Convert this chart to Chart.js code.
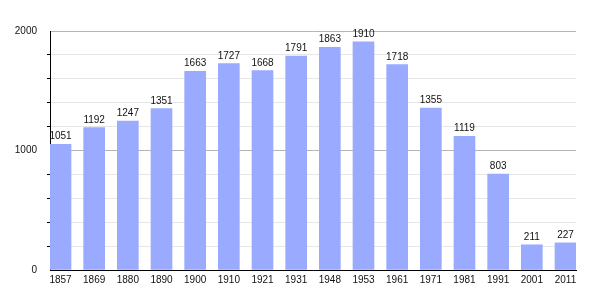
<!DOCTYPE html>
<html>
<head>
<meta charset="utf-8">
<script src="https://cdn.jsdelivr.net/npm/chart.js@4"></script>
<style>
  html, body { margin: 0; padding: 0; background: #fff; }
  #wrap { width: 605px; height: 300px; }
</style>
</head>
<body>
<div id="wrap"><canvas id="popChart"></canvas></div>
<script>
const years = ['1857', '1869', '1880', '1890', '1900', '1910', '1921', '1931',
               '1948', '1953', '1961', '1971', '1981', '1991', '2001', '2011'];
const population = [1051, 1192, 1247, 1351, 1663, 1727, 1668, 1791,
                    1863, 1910, 1718, 1355, 1119, 803, 211, 227];
const yMax = 2000;
const yStep = 200;
const yLabelStep = 1000;

const FONT = '"Liberation Sans", Arial, sans-serif';

// Draws the value above each bar.
const valueLabels = {
    id: 'valueLabels',
    afterDatasetsDraw(chart) {
        const ctx = chart.ctx;
        const meta = chart.getDatasetMeta(0);
        ctx.save();
        ctx.font = '10px ' + FONT;
        ctx.fillStyle = '#111';
        ctx.textAlign = 'center';
        ctx.textBaseline = 'alphabetic';
        meta.data.forEach((bar, i) => {
            ctx.fillText(String(population[i]), bar.x, bar.y - 5);
        });
        ctx.restore();
    }
};

new Chart(document.getElementById('popChart'), {
    type: 'bar',
    data: {
        datasets: [{
            data: population.map((v, i) => ({ x: i, y: v })),
            backgroundColor: '#9aabff',
            borderWidth: 0,
            barThickness: 21,
        }]
    },
    options: {
        responsive: true,
        maintainAspectRatio: false,
        animation: false,
        layout: { padding: { top: 31, right: 29, left: 0, bottom: 0 } },
        scales: {
            x: {
                type: 'linear',
                offset: false,
                min: -0.312,
                max: population.length - 1 + 0.312,
                afterBuildTicks: scale => {
                    scale.ticks = years.map((_, i) => ({ value: i }));
                },
                afterFit: scale => { scale.height = 30; },
                grid: { display: false, drawTicks: false },
                border: { display: true, color: '#000', width: 1 },
                ticks: {
                    color: '#111',
                    padding: 4,
                    maxRotation: 0,
                    autoSkip: false,
                    font: { family: FONT, size: 10 },
                    callback: v => years[v] ?? ''
                }
            },
            y: {
                min: 0,
                max: yMax,
                afterFit: scale => { scale.width = 50; },
                grid: {
                    color: c => (c.tick && c.tick.value % yLabelStep === 0) ? '#b4b4b4' : '#e6e6e6',
                    tickColor: c => (c.tick && c.tick.value % yLabelStep === 0) ? 'rgba(0,0,0,0)' : '#000',
                    tickLength: 3,
                },
                border: { display: true, color: '#000', width: 1 },
                ticks: {
                    stepSize: yStep,
                    color: '#111',
                    padding: 10,
                    font: { family: FONT, size: 10 },
                    callback: v => (v % yLabelStep === 0) ? String(v) : ''
                }
            }
        },
        plugins: {
            legend: { display: false },
            tooltip: { enabled: false }
        }
    },
    plugins: [valueLabels]
});
</script>
</body>
</html>
